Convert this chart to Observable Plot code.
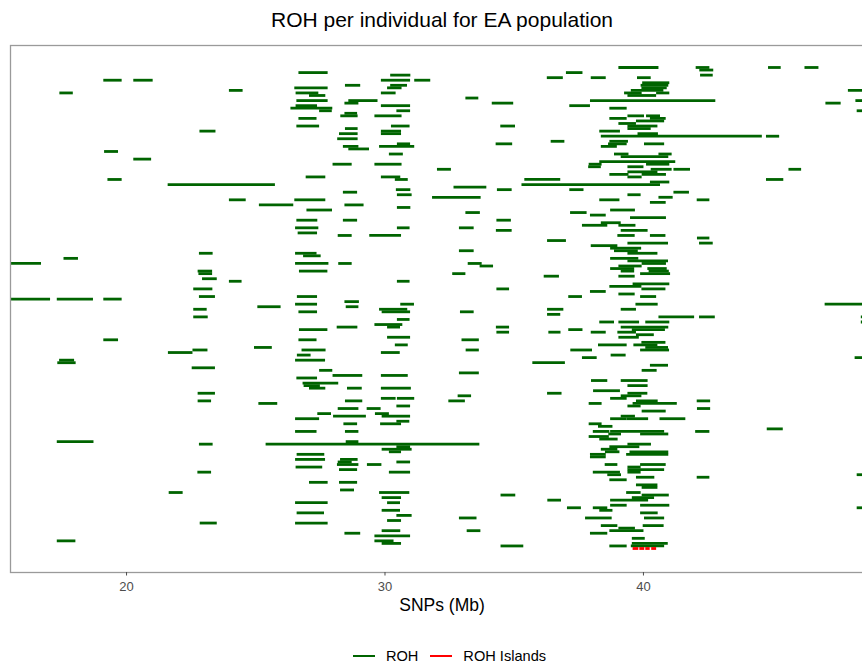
<!DOCTYPE html>
<html><head><meta charset="utf-8">
<script src="https://cdn.jsdelivr.net/npm/d3@7"></script>
<script src="https://cdn.jsdelivr.net/npm/@observablehq/plot@0.6"></script>
<style>
html,body{margin:0;padding:0;overflow:hidden;background:#fff;}
#wrap{position:relative;width:874px;height:664px;font-family:"Liberation Sans",Arial,sans-serif;color:#000;}
#chart{position:absolute;left:0;top:0;}
#title{position:absolute;left:10px;width:864px;top:8px;text-align:center;font-size:21px;line-height:24px;}
#xlabel{position:absolute;left:10px;width:864px;top:595px;text-align:center;font-size:17.5px;line-height:20px;}
#legend{position:absolute;left:8px;width:895px;top:646px;height:20px;display:flex;justify-content:center;align-items:center;font-size:14.6px;line-height:16px;}
.key{display:inline-block;width:22px;height:1.8px;margin-right:11px;}
.lab{margin-right:12px;}
</style></head>
<body><div id="wrap">
<div id="chart"></div>
<div id="title">ROH per individual for EA population</div>
<div id="xlabel">SNPs (Mb)</div>
<div id="legend"></div>
</div>
<script>
const xTicks = [20, 30, 40];
const seriesNames = ["ROH", "ROH Islands"];
const seriesColors = ["#006400", "#ff0000"];

// [individual, start Mb, end Mb]
const rohWest = [
[184,19.12,19.83],[184,20.28,21.03],[180,23.98,24.51],[179,17.42,17.94],[164,22.84,23.46],[156,19.15,19.69],[153,20.28,20.97],[145,19.28,19.83],[143,21.61,25.76],[137,23.98,24.63],[135,25.14,26.47],
[116,22.82,23.35],[114,17.58,18.14],[112,15.2,16.71],[109,22.77,23.33],[108,22.8,23.33],[106,22.94,23.51],[105,23.98,24.47],[102,22.6,23.34],[99,22.82,23.44],[98,15.2,17.06],[98,17.32,18.72],[98,19.12,19.83],[95,25.08,25.98],[94,22.6,23.12],[91,22.6,23.16],[82,19.12,19.69],[79,24.95,25.64],[78,22.57,23.15],[77,21.62,22.57],[74,17.41,17.99],[73,17.34,18.05],[71,22.54,23.44],[61,22.77,23.44],[58,22.77,23.29],[57,25.12,25.85],[42,17.32,18.74],[41,22.82,23.35],[41,25.40,33.67],[30,22.76,23.29],[22,21.65,22.19],[10,22.85,23.51],[3,17.32,18.04]
];

const rohCentral = [
[187,26.67,27.80],[186,30.22,31.0],[184,29.86,30.99],[184,31.15,31.77],[185,36.28,36.9],[187,37.02,37.66],[182,28.47,29.06],[182,30.22,30.87],[181,30.1,30.66],[181,26.51,27.8],[179,26.56,27.44],[179,29.86,30.43],[178,27.08,27.71],[177,33.13,33.63],[176,26.59,27.8],[176,28.6,29.73],[175,28.45,28.99],[175,34.15,34.98],[174,26.56,27.39],[174,29.86,30.99],[174,37.15,37.95],[173,26.36,27.98],[172,27.47,27.96],[172,30.46,30.99],[171,28.45,28.94],[170,28.29,28.96],[170,29.61,30.66],[169,26.67,27.37],[166,26.59,27.47],[166,30.25,30.97],[166,34.48,35.05],[165,28.47,28.96],[164,29.86,30.64],[163,29.86,30.64],[163,28.24,28.96],[161,28.17,28.96],[160,36.43,36.96],[159,34.3,34.94],[158,28.39,28.99],[158,29.79,31.15],[159,30.48,30.99],[157,28.6,29.4],[155,30.17,30.71],[151,27.99,28.73],[151,29.61,30.66],[149,32.03,32.57],[146,26.95,27.71],[146,29.86,30.61],[145,30.4,30.9],[145,35.41,36.8],[143,35.3,40.66],[142,32.67,33.94],[141,34.35,34.92],[141,30.44,31.0],[141,37.15,37.7],[140,28.39,28.94],[139,30.48,31.05],[138,31.84,33.72],[137,26.51,27.71],[135,28.45,29.19],[133,26.98,27.97],[134,30.48,31.0],[132,33.13,33.69],[132,37.18,37.82],[129,26.59,27.4],[129,28.39,28.94],[129,34.33,34.89],
[126,26.54,27.44],[126,30.48,30.97],[126,32.88,33.45],[124,26.64,27.39],[125,34.31,34.92],[123,28.19,28.73],[123,29.41,30.64],[121,36.29,37.02],[116,26.54,27.37],[115,26.85,27.53],[117,32.88,33.45],[112,26.54,27.83],[112,28.21,28.73],[112,33.22,33.76],[111,33.68,34.2],[109,26.69,27.79],[108,32.62,33.13],[107,36.16,36.75],[105,30.48,30.97],[102,34.33,34.82],[99,26.61,27.39],[99,37.11,37.64],[96,26.54,27.39],[97,28.45,29.01],[96,30.61,31.14],[95,28.5,28.99],[94,29.79,30.88],[93,29.89,30.99],[93,26.67,27.39],[93,32.92,33.45],[94,36.29,36.92],[92,36.29,36.8],[90,30.48,30.97],[88,29.61,30.69],[87,30.1,30.6],[86,26.69,27.79],[87,28.15,28.95],[87,34.31,34.82],[85,34.33,34.82],[85,36.34,36.81],[86,37.11,37.66],[83,30.1,30.99],[82,26.67,27.37],[82,32.98,33.65],[80,30.4,30.9],[78,26.79,27.72],[78,33.14,33.65],[78,37.19,38.03],[77,29.86,30.59],[76,26.61,27.14],[74,26.54,27.7],[73,35.72,36.98],[70,27.47,27.98],[67,26.59,27.39],[68,27.99,29.14],[68,29.86,30.9],[69,32.88,33.65],[65,26.83,28.21],[64,26.87,27.5],[63,27.08,27.71],[63,28.55,29.12],[63,29.86,31.02],[60,32.83,33.35],[61,36.29,36.85],[59,29.86,30.43],[59,30.48,31.15],
[58,28.47,29.14],[58,32.47,33.11],[55,28.19,28.99],[55,29.31,29.85],[56,30.46,30.99],[53,27.4,27.93],[53,29.63,30.17],[52,28.01,29.28],[52,29.89,30.99],[51,26.54,27.47],[50,30.46,30.96],[49,28.41,28.94],[49,29.83,30.64],[46,26.54,27.37],[46,28.47,28.99],[42,28.5,28.99],[40,30.46,30.99],[39,29.89,31.05],[38,30.17,30.64],[37,26.6,27.67],[35,26.54,27.7],[35,28.28,28.96],[34,28.19,28.73],[34,30.46,30.99],[33,28.16,28.99],[33,29.32,29.88],[32,26.56,27.59],[31,28.24,28.94],[30,30.17,30.99],[26,27.08,27.8],[26,28.24,28.94],[23,28.28,28.82],[22,29.79,30.96],[21,34.49,35.06],[20,29.89,30.64],[19,36.3,36.83],[18,26.54,27.8],[18,30.1,30.6],[16,37.06,37.6],[14,26.6,27.66],[15,29.89,30.6],[13,30.46,31.05],[12,32.88,33.56],[11,30.1,30.64],[10,26.54,27.8],[6,28.45,29.06],[7,29.89,30.61],[7,33.18,33.71],[5,29.61,30.99],[3,29.61,30.35],[2,29.89,30.64],[1,34.49,35.37]
];

const rohEast = [
[189,39.05,40.6],[189,42.04,42.57],[188,42.18,42.72],[189,44.84,45.33],[189,46.25,46.79],[186,42.21,42.7],[185,37.98,38.56],[185,39.77,40.3],[183,39.97,41.02],[182,39.91,40.98],[181,39.94,40.92],[180,39.53,40.79],[179,39.27,39.95],[179,40.51,41.02],[178,39.4,40.51],[180,47.93,49.2],[176,37.95,42.8],[176,48.22,49.2],[175,47.06,47.65],[172,48.27,49.2],[173,38.7,39.37],[169,38.7,39.37],[170,39.4,40.04],[170,40.12,40.66],[169,40.27,40.88],[168,39.73,40.82],[167,39.05,39.73],[166,39.4,40.56],[165,39.4,40.3],[164,38.31,39.11],[163,39.79,40.58],[162,38.37,44.6],[162,44.76,45.27],[160,38.7,39.42],[159,38.65,39.37],[159,40.04,40.82],[158,38.37,38.99],[155,38.88,39.44],[155,40.6,41.11],[154,39.14,40.98],[152,38.31,41.25],[151,37.9,38.4],[151,40.12,41.02],[150,37.88,38.37],[150,39.4,40.02],[149,40.3,41.11],[149,41.18,41.82],[149,45.63,46.12],[148,39.4,40.56],[147,38.7,39.44],[147,39.95,40.89],[146,39.4,39.95],[145,44.76,45.43],[144,40.27,41.02],[140,41.18,41.78],[139,39.4,39.91],[138,40.6,41.15],[137,38.31,39.09],[137,42.08,42.57],[136,40.27,40.88],[133,38.73,39.69],[131,37.95,38.56],[130,39.5,40.89],[128,38.37,39.14],[127,37.64,38.62],[127,39.05,39.71],
[125,39.14,40.18],[123,39.01,39.68],[123,40.27,40.87],[122,42.09,42.57],[120,39.4,40.97],[120,42.17,42.7],[119,37.98,39.01],[118,38.73,39.93],[117,38.88,39.8],[116,39.4,40.56],[114,38.73,39.82],[113,39.4,40.97],[112,39.95,40.89],[111,39.05,39.95],[110,38.73,39.66],[110,40.17,40.92],[109,39.14,39.66],[109,40.22,41.0],[108,39.89,41.05],[107,39.05,39.68],[104,39.6,41.02],[103,38.7,39.94],[102,39.94,40.87],[101,37.95,38.56],[100,39.05,39.68],[99,39.89,40.51],[96,39.71,40.57],[96,47.03,49.2],[94,39.14,39.73],[91,40.6,41.98],[91,42.17,42.78],[91,48.43,49.2],[89,48.43,49.2],[89,38.31,38.88],[89,39.05,39.85],[89,40.09,41.02],[87,39.14,40.98],[86,39.57,40.85],[85,37.98,38.56],[85,39.01,39.73],[84,39.73,40.42],[83,39.05,39.84],[81,39.94,40.87],[80,38.26,39.37],[80,39.63,40.56],[79,40.09,40.97],[78,39.89,41.01],[75,37.64,38.21],[76,38.75,39.33],[75,48.19,49.2],[72,40.27,40.97],[70,39.95,40.53],[66,37.99,38.62],[66,39.14,40.18],[64,39.4,40.18],[62,38.07,39.11],[61,39.4,40.17],[60,39.14,39.94],[59,38.73,39.37],[58,39.73,40.57],[58,42.08,42.6],
[57,37.9,38.4],[57,39.6,41.31],[56,39.4,39.91],[55,42.09,42.6],[54,39.95,40.88],[52,39.14,39.69],[51,38.73,39.37],[51,39.37,40.2],[51,40.64,41.64],[49,37.9,38.4],[48,38.26,38.82],[47,44.79,45.41],[46,38.06,38.7],[46,38.73,40.82],[46,42.02,42.57],[45,38.66,39.15],[45,39.89,40.98],[44,37.9,38.68],[43,38.31,39.02],[41,39.4,40.31],[40,38.7,39.86],[39,38.37,39.01],[38,38.53,39.09],[38,39.48,40.98],[37,37.95,38.56],[37,39.35,40.98],[36,37.95,38.56],[33,38.52,39.01],[33,39.89,40.88],[32,39.4,39.91],[31,39.4,40.82],[30,38.06,39.11],[30,39.4,39.91],[29,38.62,39.15],[28,39.73,40.44],[28,42.08,42.57],[29,48.27,49.2],[27,38.7,39.37],[25,39.73,40.56],[24,39.95,40.56],[22,39.35,39.91],[21,39.95,41.0],[20,39.57,40.43],[19,38.73,40.2],[17,38.73,39.37],[17,39.89,41.02],[16,38.06,38.62],[15,38.31,38.82],[16,48.27,49.2],[14,39.89,40.57],[12,37.76,38.79],[12,40.04,40.82],[9,38.37,39.01],[9,39.99,40.8],[8,39.05,39.69],[7,38.7,40.02],[6,37.95,38.62],[4,39.57,40.07],[2,39.57,40.96],[1,38.7,39.37],[1,39.53,40.82]
];

const islands = [[0,39.6,39.82],[0,39.86,40.05],[0,40.09,40.26],[0,40.32,40.51]];

const roh = [...rohWest, ...rohCentral, ...rohEast];

const chart = Plot.plot({
  width: 874, height: 620,
  marginLeft: 10, marginRight: 0, marginTop: 45, marginBottom: 48,
  style: {fontFamily: "Liberation Sans, Arial, sans-serif", background: "#fff"},
  x: {domain: [15.51, 48.94], label: null},
  y: {domain: [-9.43, 197.64], axis: null},
  marks: [
    Plot.ruleY(roh, {y: d => d[0], x1: d => d[1], x2: d => d[2], stroke: seriesColors[0], strokeWidth: 2.8, clip: true}),
    Plot.ruleY(islands, {y: d => d[0], x1: d => d[1], x2: d => d[2], stroke: seriesColors[1], strokeWidth: 2.8, clip: true}),
    Plot.frame({stroke: "#9a9a9a", strokeWidth: 1.3}),
    Plot.axisX({ticks: xTicks, tickSize: 3.5, tickPadding: 5.5, fontSize: 13, color: "#4d4d4d", label: null})
  ]
});
document.getElementById("chart").appendChild(chart);

const legend = document.getElementById("legend");
seriesNames.forEach((name, i) => {
  const k = document.createElement("span");
  k.className = "key"; k.style.background = seriesColors[i];
  const t = document.createElement("span");
  t.className = "lab"; t.textContent = name;
  legend.appendChild(k); legend.appendChild(t);
});
</script>
</body></html>
